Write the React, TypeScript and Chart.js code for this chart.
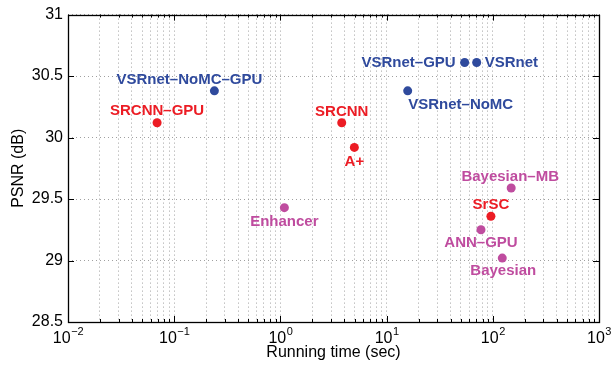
import React, { useEffect, useRef } from "react";
import { Chart, registerables } from "chart.js";

Chart.register(...registerables);

// ---- data ----
const methods = [
  "SRCNN–GPU",
  "VSRnet–NoMC–GPU",
  "VSRnet–GPU",
  "VSRnet",
  "VSRnet–NoMC",
  "SRCNN",
  "A+",
  "Bayesian–MB",
  "SrSC",
  "ANN–GPU",
  "Bayesian",
  "Enhancer",
];
const runningTime = [0.069, 0.239, 54.3, 70.5, 15.8, 3.78, 4.97, 149, 96, 77.4, 122.8, 1.09];
const psnr = [30.12, 30.38, 30.61, 30.61, 30.38, 30.12, 29.92, 29.59, 29.36, 29.25, 29.02, 29.43];
const methodGroup = ["red", "blue", "blue", "blue", "blue", "red", "red", "magenta", "red", "magenta", "magenta", "magenta"];
const groups = ["blue", "red", "magenta"];

const xDecades = [-2, -1, 0, 1, 2, 3];
const xTickBase = "10";
const xTickExponents = ["−2", "−1", "0", "1", "2", "3"];
const yTicks = [28.5, 29, 29.5, 30, 30.5, 31];
const yTickLabels = ["28.5", "29", "29.5", "30", "30.5", "31"];

// ---- styles ----
const groupColor: Record<string, string> = {
  blue: "#2F4A9D",
  red: "#EC1C24",
  magenta: "#BF4C9F",
};
// label placement relative to its point: [dx, dy, align]
const labelPlacement: [number, number, CanvasTextAlign][] = [
  [0, -12, "center"],
  [-25, -11, "center"],
  [-9, 0, "right"],
  [8, 0, "left"],
  [53, 14, "center"],
  [0, -11, "center"],
  [0, 14, "center"],
  [-1, -11, "center"],
  [0, -11, "center"],
  [0, 13, "center"],
  [1, 13, "center"],
  [0, 14, "center"],
];
const FONT = "'Liberation Sans', Arial, Helvetica, sans-serif";

const isPow10 = (v: number) => {
  const l = Math.log10(v);
  return Math.abs(l - Math.round(l)) < 1e-6;
};

const decorPlugin = {
  id: "decor",
  afterDraw(chart: any) {
    const { ctx, chartArea } = chart;
    const { left, right, top, bottom } = chartArea;
    const xs = chart.scales.x;
    const ys = chart.scales.y;
    ctx.save();
    ctx.strokeStyle = "#000";
    ctx.lineWidth = 1;
    // inner ticks
    ctx.beginPath();
    xs.ticks.forEach((t: any) => {
      const px = Math.round(xs.getPixelForValue(t.value)) + 0.5;
      const len = isPow10(t.value) ? 6 : 3;
      ctx.moveTo(px, bottom);
      ctx.lineTo(px, bottom - len);
      ctx.moveTo(px, top);
      ctx.lineTo(px, top + len);
    });
    ys.ticks.forEach((t: any) => {
      const py = Math.round(ys.getPixelForValue(t.value)) + 0.5;
      ctx.moveTo(left, py);
      ctx.lineTo(left + 6, py);
      ctx.moveTo(right, py);
      ctx.lineTo(right - 6, py);
    });
    ctx.stroke();
    // box
    ctx.lineWidth = 1.3;
    ctx.strokeRect(Math.round(left) + 0.5, Math.round(top) + 0.5, Math.round(right - left), Math.round(bottom - top));
    ctx.restore();

    // x tick labels: 10 with superscript exponent
    ctx.save();
    ctx.fillStyle = "#000";
    ctx.textBaseline = "alphabetic";
    ctx.textAlign = "left";
    const baseFont = `16px ${FONT}`;
    const expFont = `11px ${FONT}`;
    xDecades.forEach((e, i) => {
      const px = xs.getPixelForValue(Math.pow(10, e));
      ctx.font = baseFont;
      const wb = ctx.measureText(xTickBase).width;
      ctx.font = expFont;
      const we = ctx.measureText(xTickExponents[i]).width;
      const x0 = px - (wb + we) / 2;
      const baseY = bottom + 21;
      ctx.font = baseFont;
      ctx.fillText(xTickBase, x0, baseY);
      ctx.font = expFont;
      ctx.fillText(xTickExponents[i], x0 + wb + 0.5, baseY - 8);
    });
    ctx.restore();

    // labels
    ctx.save();
    ctx.font = `bold 15px ${FONT}`;
    ctx.textBaseline = "middle";
    chart.data.datasets.forEach((ds: any, di: number) => {
      const meta = chart.getDatasetMeta(di);
      meta.data.forEach((el: any, j: number) => {
        const idx = ds.methodIndex[j];
        const [dx, dy, align] = labelPlacement[idx];
        ctx.fillStyle = groupColor[methodGroup[idx]];
        ctx.textAlign = align;
        ctx.fillText(methods[idx], el.x + dx, el.y + dy);
      });
    });
    ctx.restore();
  },
};

export default function App() {
  const ref = useRef<HTMLCanvasElement | null>(null);

  useEffect(() => {
    document.body.style.margin = "0";
    if (!ref.current) return;

    const datasets = groups.map((g) => {
      const idxs = methods.map((_, i) => i).filter((i) => methodGroup[i] === g);
      return {
        label: g,
        methodIndex: idxs,
        data: idxs.map((i) => ({ x: runningTime[i], y: psnr[i] })),
        backgroundColor: groupColor[g],
        borderColor: groupColor[g],
        borderWidth: 0,
        pointRadius: 4.5,
        pointHoverRadius: 4.5,
        showLine: false,
      } as any;
    });

    const chart = new Chart(ref.current, {
      type: "scatter",
      data: { datasets },
      options: {
        animation: false,
        responsive: true,
        maintainAspectRatio: false,
        layout: { padding: { top: 12, right: 12, left: 0, bottom: 0 } },
        plugins: {
          legend: { display: false },
          tooltip: { enabled: false },
        },
        scales: {
          x: {
            type: "logarithmic",
            min: 0.01,
            max: 1000,
            afterBuildTicks: (scale: any) => {
              const vals: number[] = [];
              for (let e = xDecades[0]; e < xDecades[xDecades.length - 1]; e++) {
                for (let m = 1; m < 10; m++) vals.push(parseFloat((m * Math.pow(10, e)).toPrecision(6)));
              }
              vals.push(Math.pow(10, xDecades[xDecades.length - 1]));
              scale.ticks = vals.map((v) => ({ value: v }));
            },
            afterFit: (scale: any) => {
              scale.height = 48;
            },
            ticks: {
              display: false,
              autoSkip: false,
              maxRotation: 0,
            },
            grid: {
              color: "#a0a0a0",
              lineWidth: 1,
              drawTicks: false,
            },
            border: { display: false, dash: [1, 3] },
            title: {
              display: true,
              text: "Running time (sec)",
              color: "#000",
              font: { family: FONT, size: 16 },
              padding: { top: 0, bottom: 8 },
            },
          },
          y: {
            type: "linear",
            min: 28.5,
            max: 31,
            afterBuildTicks: (scale: any) => {
              scale.ticks = yTicks.map((v) => ({ value: v }));
            },
            afterFit: (scale: any) => {
              scale.width = 68;
            },
            ticks: {
              autoSkip: false,
              padding: 5,
              color: "#000",
              font: { family: FONT, size: 16 },
              callback: (value: any) => {
                const i = yTicks.findIndex((t) => Math.abs(t - Number(value)) < 1e-6);
                return i >= 0 ? yTickLabels[i] : "";
              },
            },
            grid: {
              color: "#a0a0a0",
              lineWidth: 1,
              drawTicks: false,
            },
            border: { display: false, dash: [1, 3] },
            title: {
              display: true,
              text: "PSNR (dB)",
              color: "#000",
              font: { family: FONT, size: 16 },
              padding: { top: 9, bottom: 0 },
            },
          },
        },
      },
      plugins: [decorPlugin],
    } as any);

    return () => chart.destroy();
  }, []);

  return (
    <div style={{ width: 611, height: 370, position: "relative" }}>
      <canvas ref={ref} />
    </div>
  );
}
